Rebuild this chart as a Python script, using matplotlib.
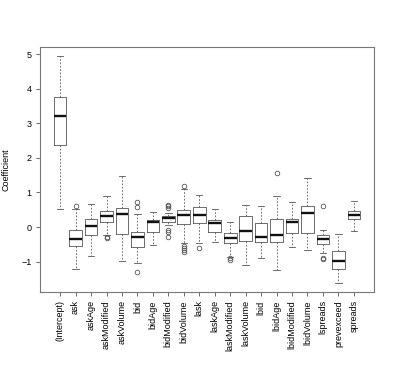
import matplotlib.pyplot as plt

# coefficient distributions per term
labels = ["(Intercept)", "ask", "askAge", "askModified", "askVolume", "bid",
          "bidAge", "bidModified", "bidVolume", "lask", "laskAge",
          "laskModified", "laskVolume", "lbid", "lbidAge", "lbidModified",
          "lbidVolume", "lspreads", "prevexceed", "spreads"]
whislo = [0.52, -1.22, -0.85, -0.22, -0.98, -1.05, -0.53, 0.06, -0.45, -0.47,
          -0.43, -0.86, -1.10, -0.91, -1.25, -0.58, -0.66, -0.76, -1.62, -0.12]
q1 = [2.36, -0.56, -0.24, 0.14, -0.20, -0.59, -0.15, 0.16, 0.08, 0.12,
      -0.15, -0.47, -0.40, -0.44, -0.44, -0.17, -0.16, -0.48, -1.20, 0.22]
med = [3.21, -0.35, 0.03, 0.33, 0.37, -0.30, 0.14, 0.26, 0.35, 0.36,
       0.11, -0.32, -0.12, -0.29, -0.23, 0.14, 0.40, -0.35, -0.97, 0.34]
q3 = [3.75, -0.09, 0.22, 0.45, 0.56, -0.15, 0.21, 0.33, 0.49, 0.57,
      0.20, -0.18, 0.32, 0.12, 0.23, 0.23, 0.60, -0.24, -0.70, 0.46]
whishi = [4.94, 0.52, 0.68, 0.89, 1.47, 0.37, 0.43, 0.42, 1.09, 0.92,
          0.53, 0.14, 0.65, 0.62, 0.89, 0.72, 1.43, -0.09, -0.20, 0.76]
fliers = [[], [0.62], [], [-0.33, -0.29], [], [0.73, 0.57, -1.30], [],
          [0.65, 0.60, 0.56, -0.08, -0.13, -0.30],
          [1.18, -0.55, -0.60, -0.66, -0.72], [-0.62], [], [-0.95, -0.90],
          [], [], [1.57], [], [], [0.61, -0.90, -0.93], [], []]

stats = []
for i in range(len(labels)):
    stats.append(dict(label=labels[i], whislo=whislo[i], q1=q1[i], med=med[i],
                      q3=q3[i], whishi=whishi[i], fliers=fliers[i]))

plt.rcParams['font.family'] = ['Liberation Sans', 'DejaVu Sans']
fig = plt.figure(figsize=(3.99, 3.72), dpi=100)
ax = fig.add_axes([0.1003, 0.215, 0.8370, 0.6587])

lc = '#555555'
ax.bxp(stats, widths=0.82, showfliers=True,
       boxprops=dict(color=lc, lw=0.6),
       whiskerprops=dict(color=lc, lw=0.6, linestyle=(0, (2, 2))),
       capprops=dict(color=lc, lw=0.6),
       capwidths=0.41,
       medianprops=dict(color='#111111', lw=1.7, solid_capstyle='butt'),
       flierprops=dict(marker='o', markersize=3.3, markerfacecolor='none',
                       markeredgecolor=lc, markeredgewidth=0.6))

ax.set_xlim(-0.3, 21.3)
ax.set_ylim(-1.88, 5.21)
ax.set_xticks(range(1, len(labels) + 1))
ax.set_xticklabels(labels, rotation=90, fontsize=6.5)
ax.set_yticks([-1, 0, 1, 2, 3, 4, 5])
ax.set_yticklabels(['−1', '0', '1', '2', '3', '4', '5'], fontsize=6.5)
ax.tick_params(length=3, width=0.6, color=lc, pad=3)
ax.set_ylabel("Coefficient", fontsize=6.5, labelpad=8)
for s in ax.spines.values():
    s.set_color('#777777')
    s.set_linewidth(0.8)

fig.savefig("out.png", dpi=100)
